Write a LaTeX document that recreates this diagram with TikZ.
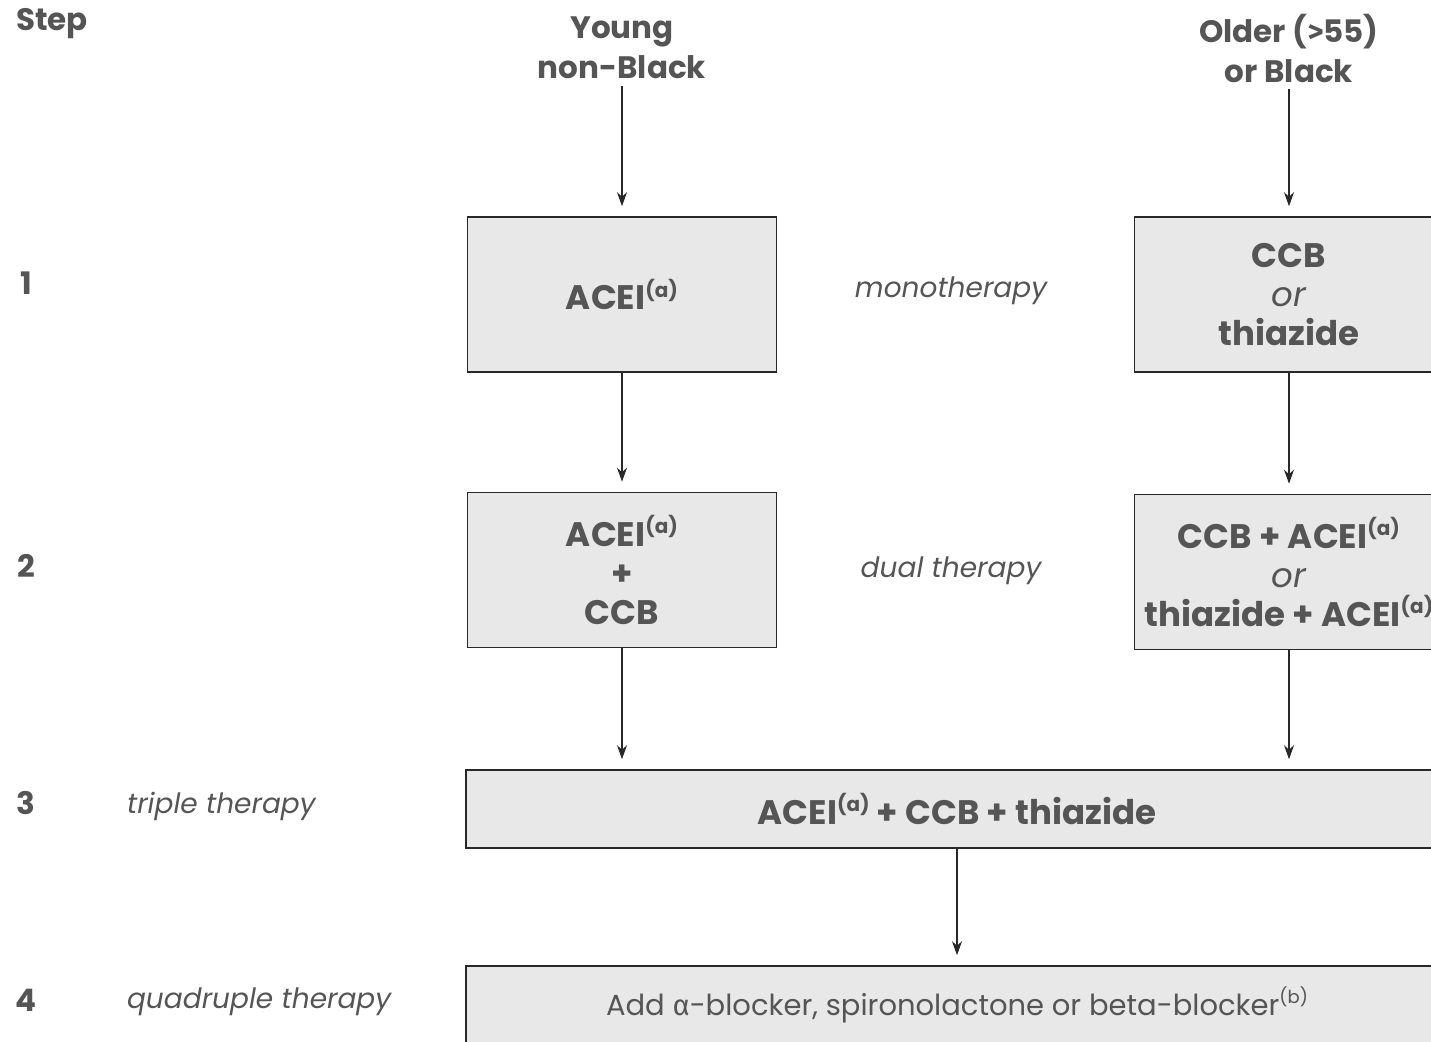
\documentclass[tikz,border=0pt]{standalone}
\usepackage{fontspec}
\setmainfont{Poppins}
\newfontfamily\greekfont{Fira Sans}
\usepackage{tikz}
\usetikzlibrary{positioning,arrows.meta}
\usepackage{xcolor}
\definecolor{boxc}{RGB}{232,232,232}
\definecolor{inkc}{RGB}{85,85,85}
\definecolor{linec}{RGB}{40,40,40}
\tikzset{
  box/.style={draw=linec, line width=0.8pt, fill=boxc, align=center, text=inkc, inner sep=2pt, font=\fontsize{17}{19.5}\selectfont\bfseries},
  drug/.style={box, minimum width=154.5pt, minimum height=77.5pt},
  wide/.style={box, minimum width=491pt, minimum height=39pt},
  head/.style={align=center, text=inkc, font=\fontsize{15.5}{20}\selectfont\bfseries},
  steplbl/.style={text=inkc, font=\fontsize{15.5}{18}\selectfont\bfseries},
  kind/.style={text=inkc, font=\fontsize{14}{17}\selectfont\itshape},
  flow/.style={-{Stealth[length=7pt,width=5pt]}, line width=0.7pt, linec, shorten >=5pt}
}
\newcommand{\sa}{\raisebox{0.65ex}{\fontsize{10}{10}\selectfont\bfseries(a)}}
\begin{document}
\begin{tikzpicture}[x=0.5pt, y=-0.5pt]
  \useasboundingbox (0,0) rectangle (1431,1041);
  \clip (0,0) rectangle (1431,1041);
  % column headings
  \node[steplbl] (step) at (52,24) {Step};
  \node[head] (young) at (622,48) {Young\\non-Black};
  \node[head] (older) at (1289,48) {Older ({\greekfont\bfseries >}55)\\or Black};

  % step numbers
  \node[steplbl] (s1) at (26,283) {1};
  \node[steplbl] (s2) at (26,566) {2};
  \node[steplbl] (s3) at (26,803) {3};
  \node[steplbl] (s4) at (26,1000) {4};
  \node[kind, anchor=west] (triple) at (120,806) {triple therapy};
  \node[kind, anchor=west] (quad) at (120,1002) {quadruple therapy};
  \node[kind] (mono) at (951,291) {monotherapy};
  \node[kind] (dual) at (951,571) {dual therapy};

  % drug boxes
  \node[drug] (acei1) at (622,294.5) {ACEI\sa};
  \node[drug] (ccb1) at (1289,294.5) {CCB\\{\itshape\mdseries or}\\thiazide};
  \node[drug] (acei2) at (622,570) {ACEI\sa\\+\\CCB};
  \node[drug] (ccb2) at (1289,572) {CCB + ACEI\sa\\{\itshape\mdseries or}\\thiazide + ACEI\sa};
  \node[wide] (three) at (957,809) {ACEI\sa{} + CCB + thiazide};
  \node[wide, font=\fontsize{14.5}{19}\selectfont] (four) at (957,1005) {Add {\greekfont α}-blocker, spironolactone or beta-blocker\raisebox{0.75ex}{\fontsize{9}{9}\selectfont(b)}};

  \draw[flow] (young) -- (acei1);
  \draw[flow] (older) -- (ccb1);
  \draw[flow] (acei1) -- (acei2);
  \draw[flow] (ccb1) -- (ccb2);
  \draw[flow] (acei2) -- (acei2 |- three.north);
  \draw[flow] (ccb2) -- (ccb2 |- three.north);
  \draw[flow] (three) -- (four);
\end{tikzpicture}
\end{document}
